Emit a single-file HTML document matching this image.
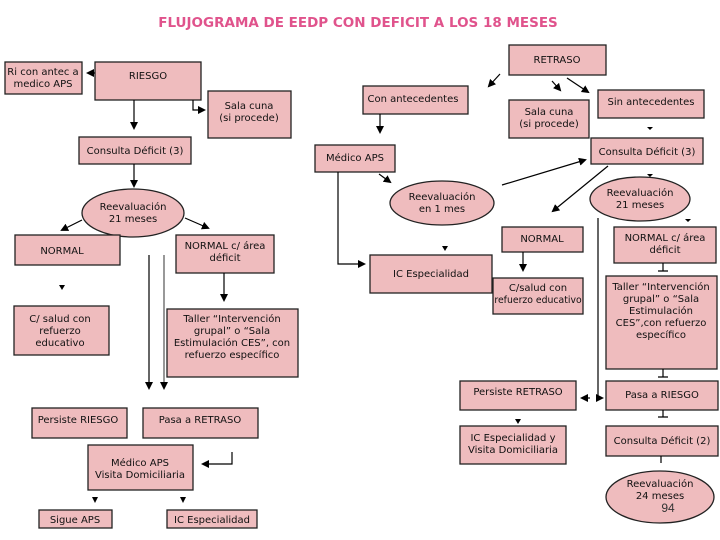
<!DOCTYPE html>
<html><head><meta charset="utf-8"><style>
html,body{margin:0;padding:0;background:#fff;width:720px;height:540px;overflow:hidden}
svg{display:block}
text{font-family:"DejaVu Sans","Liberation Sans",sans-serif;font-size:10px;fill:#111}
.b{fill:#efbcbe;stroke:#222;stroke-width:1.3}
.l{stroke:#000;stroke-width:1.2;fill:none}
</style></head><body>
<svg width="720" height="540" viewBox="0 0 720 540">
<defs><marker id="a" markerWidth="8" markerHeight="8" refX="6" refY="4" orient="auto" markerUnits="userSpaceOnUse"><path d="M0,0 L8,4 L0,8z" fill="#000"/></marker></defs>
<text x="358" y="27" text-anchor="middle" style="font-size:13.5px;font-weight:bold;fill:#e0538c">FLUJOGRAMA DE EEDP CON DEFICIT A LOS 18 MESES</text>

<rect class="b" x="5" y="62" width="77" height="32"/><text x="43" y="75" text-anchor="middle">Ri con antec a</text><text x="43" y="87" text-anchor="middle">medico APS</text>
<rect class="b" x="95" y="62" width="106" height="38"/><text x="148" y="79" text-anchor="middle">RIESGO</text>
<rect class="b" x="208" y="91" width="83" height="47"/><text x="249" y="109" text-anchor="middle">Sala cuna</text><text x="249" y="121" text-anchor="middle">(si procede)</text>
<rect class="b" x="79" y="137" width="112" height="27"/><text x="135" y="154" text-anchor="middle">Consulta Déficit (3)</text>
<ellipse class="b" cx="133" cy="213" rx="51" ry="24"/><text x="133" y="210" text-anchor="middle">Reevaluación</text><text x="133" y="222" text-anchor="middle">21 meses</text>
<rect class="b" x="15" y="235" width="105" height="30"/><text x="62" y="254" text-anchor="middle">NORMAL</text>
<rect class="b" x="176" y="235" width="98" height="38"/><text x="225" y="249" text-anchor="middle">NORMAL c/ área</text><text x="225" y="261" text-anchor="middle">déficit</text>
<rect class="b" x="14" y="306" width="95" height="49"/><text x="60" y="322" text-anchor="middle">C/ salud con</text><text x="60" y="334" text-anchor="middle">refuerzo</text><text x="60" y="346" text-anchor="middle">educativo</text>
<rect class="b" x="167" y="309" width="131" height="68"/><text x="232" y="322" text-anchor="middle">Taller “Intervención</text><text x="232" y="334" text-anchor="middle">grupal” o “Sala</text><text x="232" y="346" text-anchor="middle">Estimulación CES”, con</text><text x="232" y="358" text-anchor="middle">refuerzo específico</text>
<rect class="b" x="32" y="408" width="95" height="30"/><text x="78" y="423" text-anchor="middle">Persiste RIESGO</text>
<rect class="b" x="143" y="408" width="115" height="30"/><text x="200" y="423" text-anchor="middle">Pasa a RETRASO</text>
<rect class="b" x="88" y="445" width="105" height="45"/><text x="140" y="466" text-anchor="middle">Médico APS</text><text x="140" y="478" text-anchor="middle">Visita Domiciliaria</text>
<rect class="b" x="39" y="510" width="73" height="18"/><text x="75" y="523" text-anchor="middle">Sigue APS</text>
<rect class="b" x="167" y="510" width="90" height="18"/><text x="212" y="523" text-anchor="middle">IC Especialidad</text>

<path class="l" d="M95,73 L88,73" marker-end="url(#a)"/>
<path class="l" d="M134,100 L134,128" marker-end="url(#a)"/>
<path class="l" d="M193,100 L193,110 L204,110" marker-end="url(#a)"/>
<path class="l" d="M134,164 L134,186" marker-end="url(#a)"/>
<path class="l" d="M82,220 L62,230" marker-end="url(#a)"/>
<path class="l" d="M185,218 L208,228" marker-end="url(#a)"/>
<path d="M62,290 l-3,-5 h6z" fill="#000"/>
<path class="l" d="M224,273 L224,300" marker-end="url(#a)"/>
<path class="l" d="M149,255 L149,388" marker-end="url(#a)"/>
<path class="l" d="M164,255 L164,388" marker-end="url(#a)" style="stroke:#555"/>
<path class="l" d="M232,452 L232,464 L203,464" marker-end="url(#a)"/>
<path d="M95,503 l-3,-6 h6z M183,503 l-3,-6 h6z" fill="#000"/>

<rect class="b" x="509" y="45" width="97" height="30"/><text x="557" y="63" text-anchor="middle">RETRASO</text>
<rect class="b" x="363" y="86" width="105" height="28"/><text x="413" y="102" text-anchor="middle">Con antecedentes</text>
<rect class="b" x="509" y="100" width="80" height="38"/><text x="549" y="115" text-anchor="middle">Sala cuna</text><text x="549" y="127" text-anchor="middle">(si procede)</text>
<rect class="b" x="598" y="90" width="106" height="28"/><text x="651" y="105" text-anchor="middle">Sin antecedentes</text>
<rect class="b" x="315" y="145" width="80" height="27"/><text x="355" y="161" text-anchor="middle">Médico APS</text>
<rect class="b" x="591" y="138" width="112" height="26"/><text x="647" y="155" text-anchor="middle">Consulta Déficit (3)</text>
<ellipse class="b" cx="442" cy="203" rx="52" ry="22"/><text x="442" y="200" text-anchor="middle">Reevaluación</text><text x="442" y="212" text-anchor="middle">en 1 mes</text>
<ellipse class="b" cx="640" cy="199" rx="50" ry="22"/><text x="640" y="196" text-anchor="middle">Reevaluación</text><text x="640" y="208" text-anchor="middle">21 meses</text>
<rect class="b" x="370" y="255" width="122" height="38"/><text x="431" y="277" text-anchor="middle">IC Especialidad</text>
<rect class="b" x="502" y="227" width="81" height="25"/><text x="542" y="242" text-anchor="middle">NORMAL</text>
<rect class="b" x="493" y="278" width="90" height="36"/><text x="538" y="291" text-anchor="middle">C/salud con</text><text x="538" y="303" text-anchor="middle" style="font-size:9.3px">refuerzo educativo</text>
<rect class="b" x="614" y="227" width="102" height="36"/><text x="665" y="241" text-anchor="middle">NORMAL c/ área</text><text x="665" y="253" text-anchor="middle">déficit</text>
<rect class="b" x="606" y="276" width="111" height="93"/><text x="661" y="290" text-anchor="middle">Taller “Intervención</text><text x="661" y="302" text-anchor="middle">grupal” o “Sala</text><text x="661" y="314" text-anchor="middle">Estimulación</text><text x="661" y="326" text-anchor="middle">CES”,con refuerzo</text><text x="661" y="338" text-anchor="middle">específico</text>
<rect class="b" x="460" y="381" width="116" height="29"/><text x="518" y="395" text-anchor="middle">Persiste RETRASO</text>
<rect class="b" x="606" y="381" width="112" height="29"/><text x="662" y="398" text-anchor="middle">Pasa a RIESGO</text>
<rect class="b" x="460" y="426" width="106" height="38"/><text x="513" y="441" text-anchor="middle">IC Especialidad y</text><text x="513" y="453" text-anchor="middle">Visita Domiciliaria</text>
<rect class="b" x="606" y="426" width="112" height="30"/><text x="662" y="444" text-anchor="middle">Consulta Déficit (2)</text>
<ellipse class="b" cx="660" cy="497" rx="54" ry="26"/><text x="660" y="487" text-anchor="middle">Reevaluación</text><text x="660" y="499" text-anchor="middle">24 meses</text>
<text x="668" y="512" text-anchor="middle" style="font-family:'Liberation Sans',sans-serif;font-size:12px;fill:#333">94</text>

<path class="l" d="M500,74 L489,86" marker-end="url(#a)"/>
<path class="l" d="M552,81 L560,90" marker-end="url(#a)"/>
<path class="l" d="M567,78 L588,92" marker-end="url(#a)"/>
<path d="M650,130 l-3,-3 h6z" fill="#000"/>
<path class="l" d="M380,114 L380,132" marker-end="url(#a)"/>
<path class="l" d="M379,174 L390,182" marker-end="url(#a)"/>
<path class="l" d="M502,185 L585,160" marker-end="url(#a)"/>
<path class="l" d="M608,166 L553,211" marker-end="url(#a)"/>
<path d="M650,177 l-3,-3 h6z M688,222 l-3,-3 h6z M445,251 l-3,-5 h6z" fill="#000"/>
<path class="l" d="M338,172 L338,264 L364,264" marker-end="url(#a)"/>
<path class="l" d="M523,252 L523,270" marker-end="url(#a)"/>
<path class="l" d="M598,218 L598,398 L602,398" marker-end="url(#a)"/>
<path class="l" d="M590,398 L582,398" marker-end="url(#a)"/>
<path class="l" d="M663,263 L663,271 M658,271 L668,271 M663,369 L663,377 M658,377 L668,377 M663,410 L663,417 M658,417 L668,417 M661,456 L661,463"/>
<path d="M518,424 l-3,-5 h6z" fill="#000"/>
</svg>
</body></html>
